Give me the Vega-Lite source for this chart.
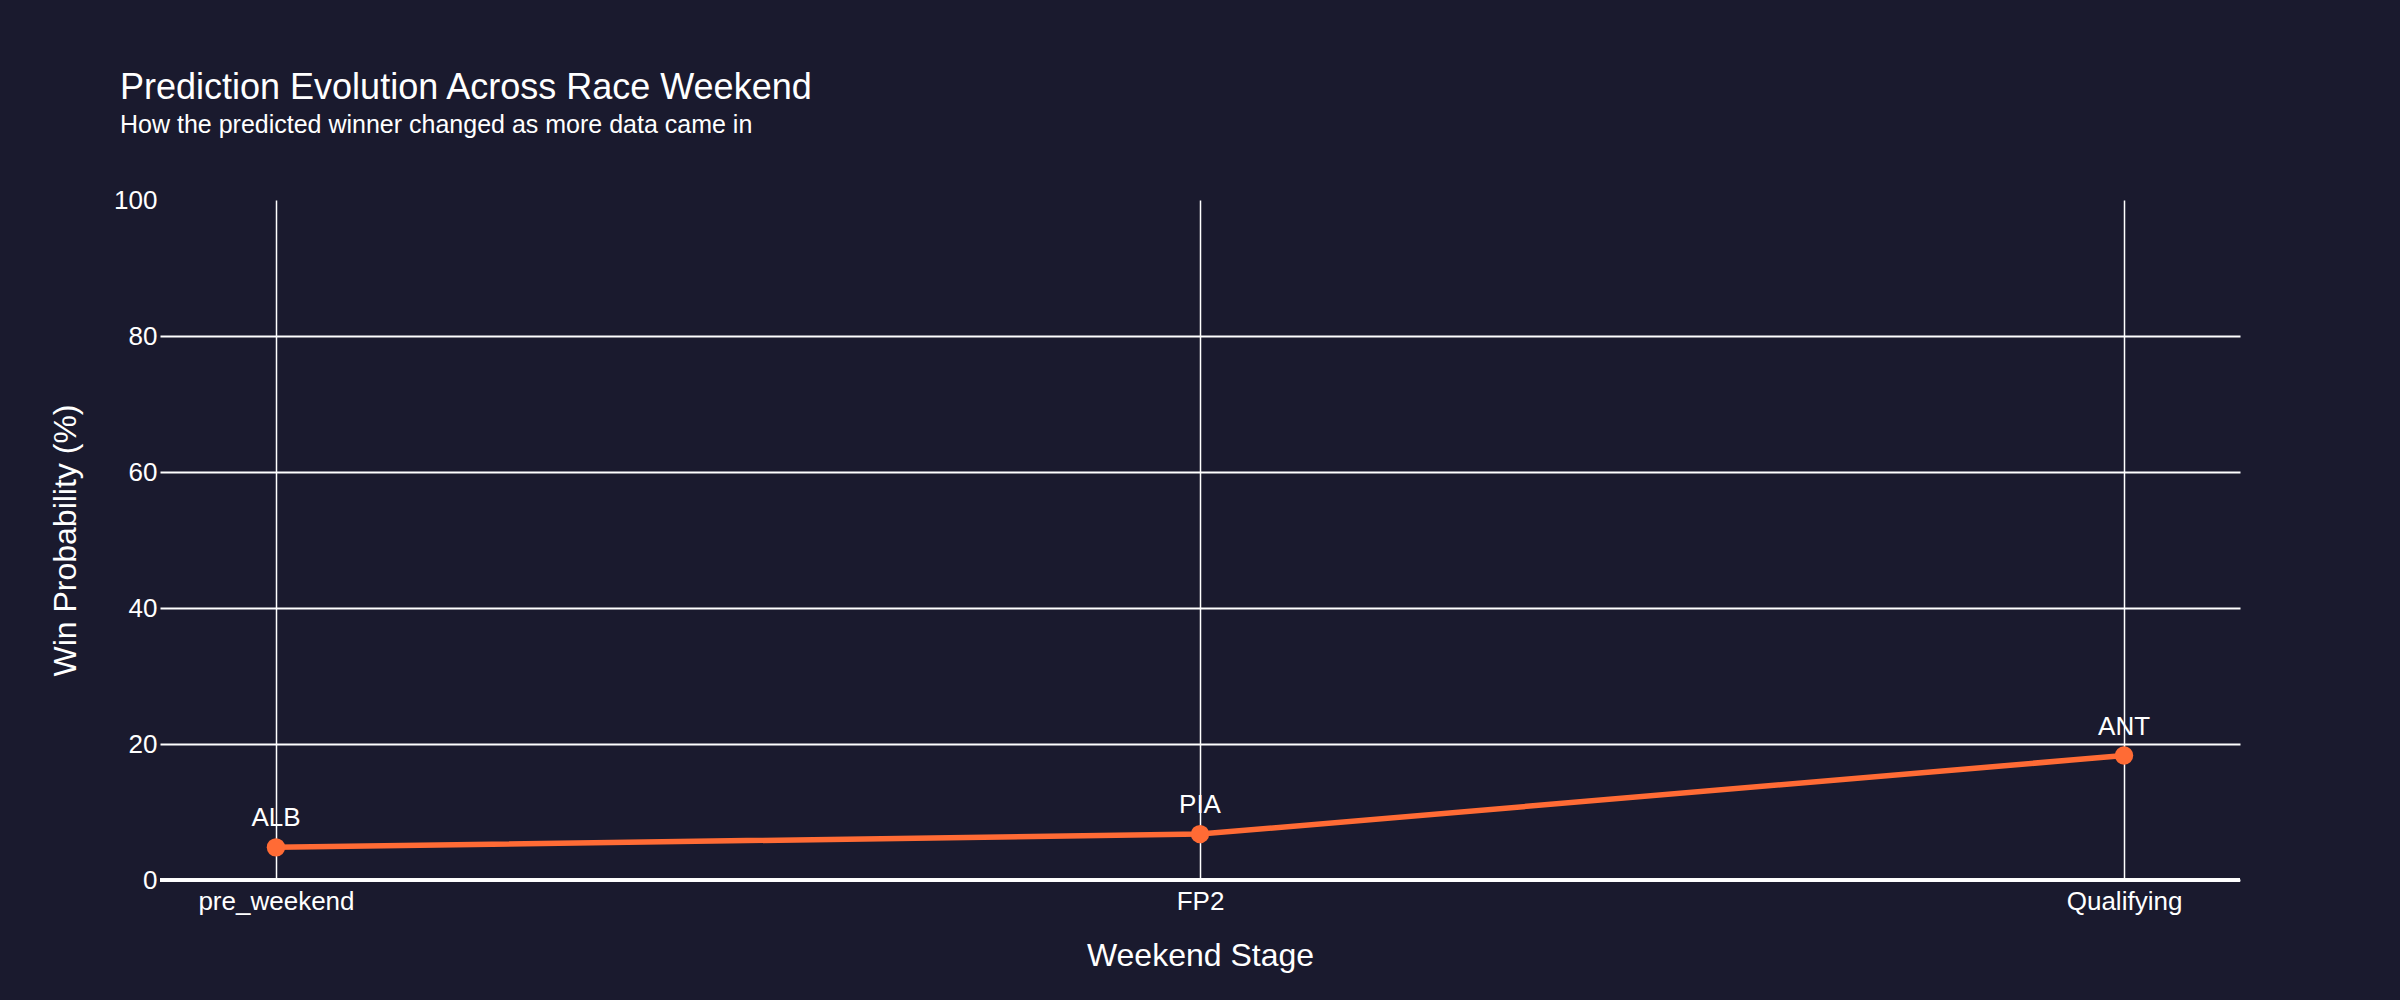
{
  "$schema": "https://vega.github.io/schema/vega-lite/v6.json",
  "width": 2080,
  "height": 680,
  "autosize": {"type": "none"},
  "padding": {"left": 160, "top": 200, "right": 160, "bottom": 120},
  "background": "#1a1a2e",
  "config": {"view": {"stroke": null}, "font": "Liberation Sans"},
  "title": {
    "text": "Prediction Evolution Across Race Weekend",
    "subtitle": "How the predicted winner changed as more data came in",
    "anchor": "start",
    "frame": "group",
    "font": "Liberation Sans",
    "subtitleFont": "Liberation Sans",
    "fontSize": 36,
    "subtitleFontSize": 25,
    "fontWeight": "normal",
    "color": "#ffffff",
    "subtitleColor": "#ffffff",
    "subtitlePadding": 6,
    "dx": -40,
    "dy": -44
  },
  "data": {
    "values": [
      {"stage": "pre_weekend", "prob": 4.8, "driver": "ALB"},
      {"stage": "FP2", "prob": 6.75, "driver": "PIA"},
      {"stage": "Qualifying", "prob": 18.3, "driver": "ANT"}
    ]
  },
  "encoding": {
    "x": {
      "field": "stage",
      "type": "nominal",
      "sort": null,
      "scale": {"type": "point", "padding": 0.1255},
      "axis": {
        "title": "Weekend Stage",
        "grid": true,
        "gridColor": "#ffffff",
        "gridWidth": 1.5,
        "ticks": false,
        "domain": false,
        "labelAngle": 0,
        "labelFontSize": 26,
        "labelColor": "#ffffff",
        "labelPadding": 8,
        "titleFontSize": 32,
        "titleFontWeight": "normal",
        "titleColor": "#ffffff",
        "titleBaseline": "alphabetic",
        "titleY": 85
      }
    },
    "y": {
      "field": "prob",
      "type": "quantitative",
      "scale": {"domain": [0, 100], "nice": false},
      "axis": {
        "title": "Win Probability (%)",
        "values": [0, 20, 40, 60, 80, 100],
        "grid": true,
        "gridColor": "#ffffff",
        "gridWidth": 2,
        "gridOpacity": {"condition": {"test": "datum.value == 100", "value": 0}, "value": 1},
        "ticks": false,
        "domain": false,
        "labelFontSize": 26,
        "labelColor": "#ffffff",
        "labelPadding": 3,
        "titleFontSize": 32,
        "titleFontWeight": "normal",
        "titleColor": "#ffffff",
        "titleBaseline": "alphabetic",
        "titleAlign": "center",
        "titleX": -85,
        "titleY": 340
      }
    }
  },
  "layer": [
    {
      "mark": {"type": "rule", "color": "#ffffff", "strokeWidth": 3.5},
      "encoding": {"y": {"datum": 0}, "x": {"value": 0}, "x2": {"value": 2080}}
    },
    {
      "mark": {"type": "line", "color": "#ff6b35", "strokeWidth": 5.5}
    },
    {
      "mark": {"type": "point", "filled": true, "opacity": 1, "color": "#ff6b35", "size": 340}
    },
    {
      "mark": {"type": "text", "color": "#ffffff", "fontSize": 26, "baseline": "alphabetic", "align": "center", "dy": -21},
      "encoding": {"text": {"field": "driver"}}
    }
  ]
}
